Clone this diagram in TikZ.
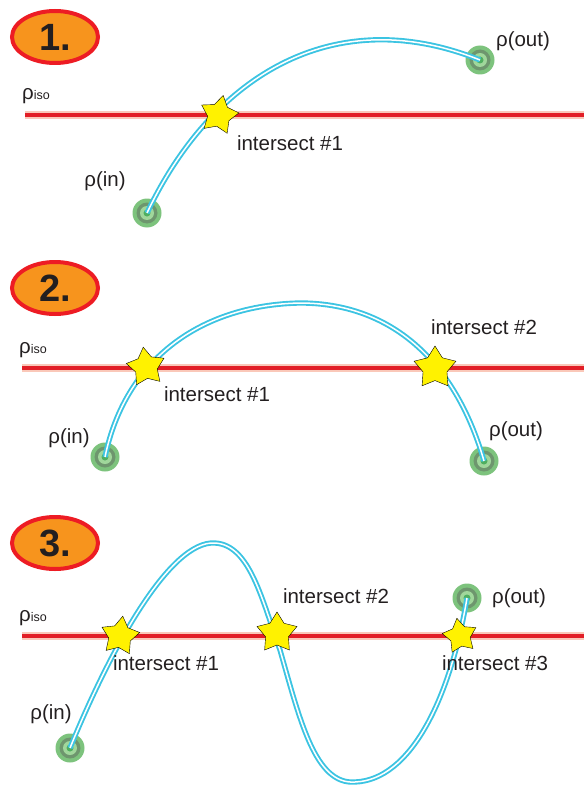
\documentclass[tikz,border=0pt]{standalone}
\usepackage{fontspec}
\setmainfont{Liberation Sans}
\usepackage{tikz}
\usetikzlibrary{shapes.geometric}
\usetikzlibrary{positioning}
\definecolor{badgeorange}{RGB}{247,148,29}
\definecolor{badgered}{RGB}{237,28,36}
\definecolor{isored}{RGB}{226,30,38}
\definecolor{isohalo}{RGB}{250,200,185}
\definecolor{pathcyan}{RGB}{60,196,226}
\definecolor{txt}{RGB}{35,31,32}
\definecolor{epout}{RGB}{125,195,125}
\definecolor{epring}{RGB}{110,150,110}
\definecolor{eplight}{RGB}{160,215,155}
\definecolor{epdot}{RGB}{80,175,95}

\begin{document}
\begin{tikzpicture}[x=1pt,y=-1pt,font=\fontsize{20.5}{24}\selectfont,
	nb/.style={ellipse, draw=badgered, line width=4pt, fill=badgeorange, minimum width=86pt, minimum height=52pt, inner sep=0pt, text=txt, font=\fontsize{38}{40}\selectfont\bfseries},
	iso/.style={isored, line width=4.5pt},
	halo/.style={isohalo, line width=7.5pt},
	tr/.style={pathcyan, line width=1.9pt, double=white, double distance=1.5pt},
	xs/.style={star, star points=5, star point ratio=1.75, minimum size=40pt, inner sep=0pt, draw=black, thin, fill=yellow},
	lb/.style={text=txt, inner sep=1pt},
	ep/.style={circle, inner sep=0pt, minimum size=29pt, fill=epout, path picture={
		\fill[epring] (path picture bounding box.center) circle (10.5pt);
		\fill[eplight] (path picture bounding box.center) circle (7pt);
		\fill[epdot] (path picture bounding box.center) circle (3.5pt);}}
]
\useasboundingbox (0,0) rectangle (584,789);

% badges, iso lines and their labels
\foreach \n/\yb/\yl/\xl in {1/37/115/25, 2/288/368/22, 3/543/636/22} {
\node (nb\n) at (55,\yb) [nb] {\n.};
\draw[halo] (\xl,\yl) -- (584,\yl);
\draw[iso] (\xl,\yl) -- (584,\yl);
\node (iso\n) at (\xl-4,\yl-15) [lb, anchor=base west] {ρ{\fontsize{12.5}{12}\selectfont iso}};
}

% 1: one crossing
\node (in1) at (147,213) [ep] {};
\node (out1) at (480,60) [ep] {};
\draw[tr] (in1.center) .. controls (210,80) and (330,0) .. (out1.center);
\node (x11) at (219,115) [xs, rotate=-12] {};
\node (l11) at (290,143) [lb] {intersect \#1};
\node (lin1) at (105,181) [lb] {ρ(in)};
\node (lout1) at (523,41) [lb] {ρ(out)};

% 2: two crossings
\node (in2) at (105,457) [ep] {};
\node (out2) at (484,461) [ep] {};
\draw[tr] (in2.center) .. controls (125,360) and (200,305) .. (300,303) .. controls (390,303) and (455,360) .. (out2.center);
\node (x21) at (146,367) [xs, rotate=8] {};
\node (x22) at (435,368) [xs, minimum size=44pt] {};
\node (l21) at (217,394) [lb] {intersect \#1};
\node (l22) at (484,327) [lb] {intersect \#2};
\node (lin2) at (69,438) [lb] {ρ(in)};
\node (lout2) at (516,431) [lb] {ρ(out)};

% 3: three crossings
\node (in3) at (70,748) [ep] {};
\node (out3) at (467,598) [ep] {};
\draw[tr] (in3.center) .. controls (110,650) and (170,540) .. (215,543) .. controls (250,545) and (262,600) .. (280,650) .. controls (300,720) and (315,785) .. (355,782) .. controls (410,780) and (450,700) .. (out3.center);
\node (x31) at (120,636) [xs, rotate=-8] {};
\node (x32) at (277,633) [xs, minimum size=42pt] {};
\node (x33) at (460,636) [xs, rotate=10, minimum size=36pt] {};
\node (l31) at (166,663) [lb] {intersect \#1};
\node (l32) at (336,596) [lb] {intersect \#2};
\node (l33) at (495,663) [lb] {intersect \#3};
\node (lin3) at (51,714) [lb] {ρ(in)};
\node (lout3) at (519,598) [lb] {ρ(out)};
\end{tikzpicture}
\end{document}
